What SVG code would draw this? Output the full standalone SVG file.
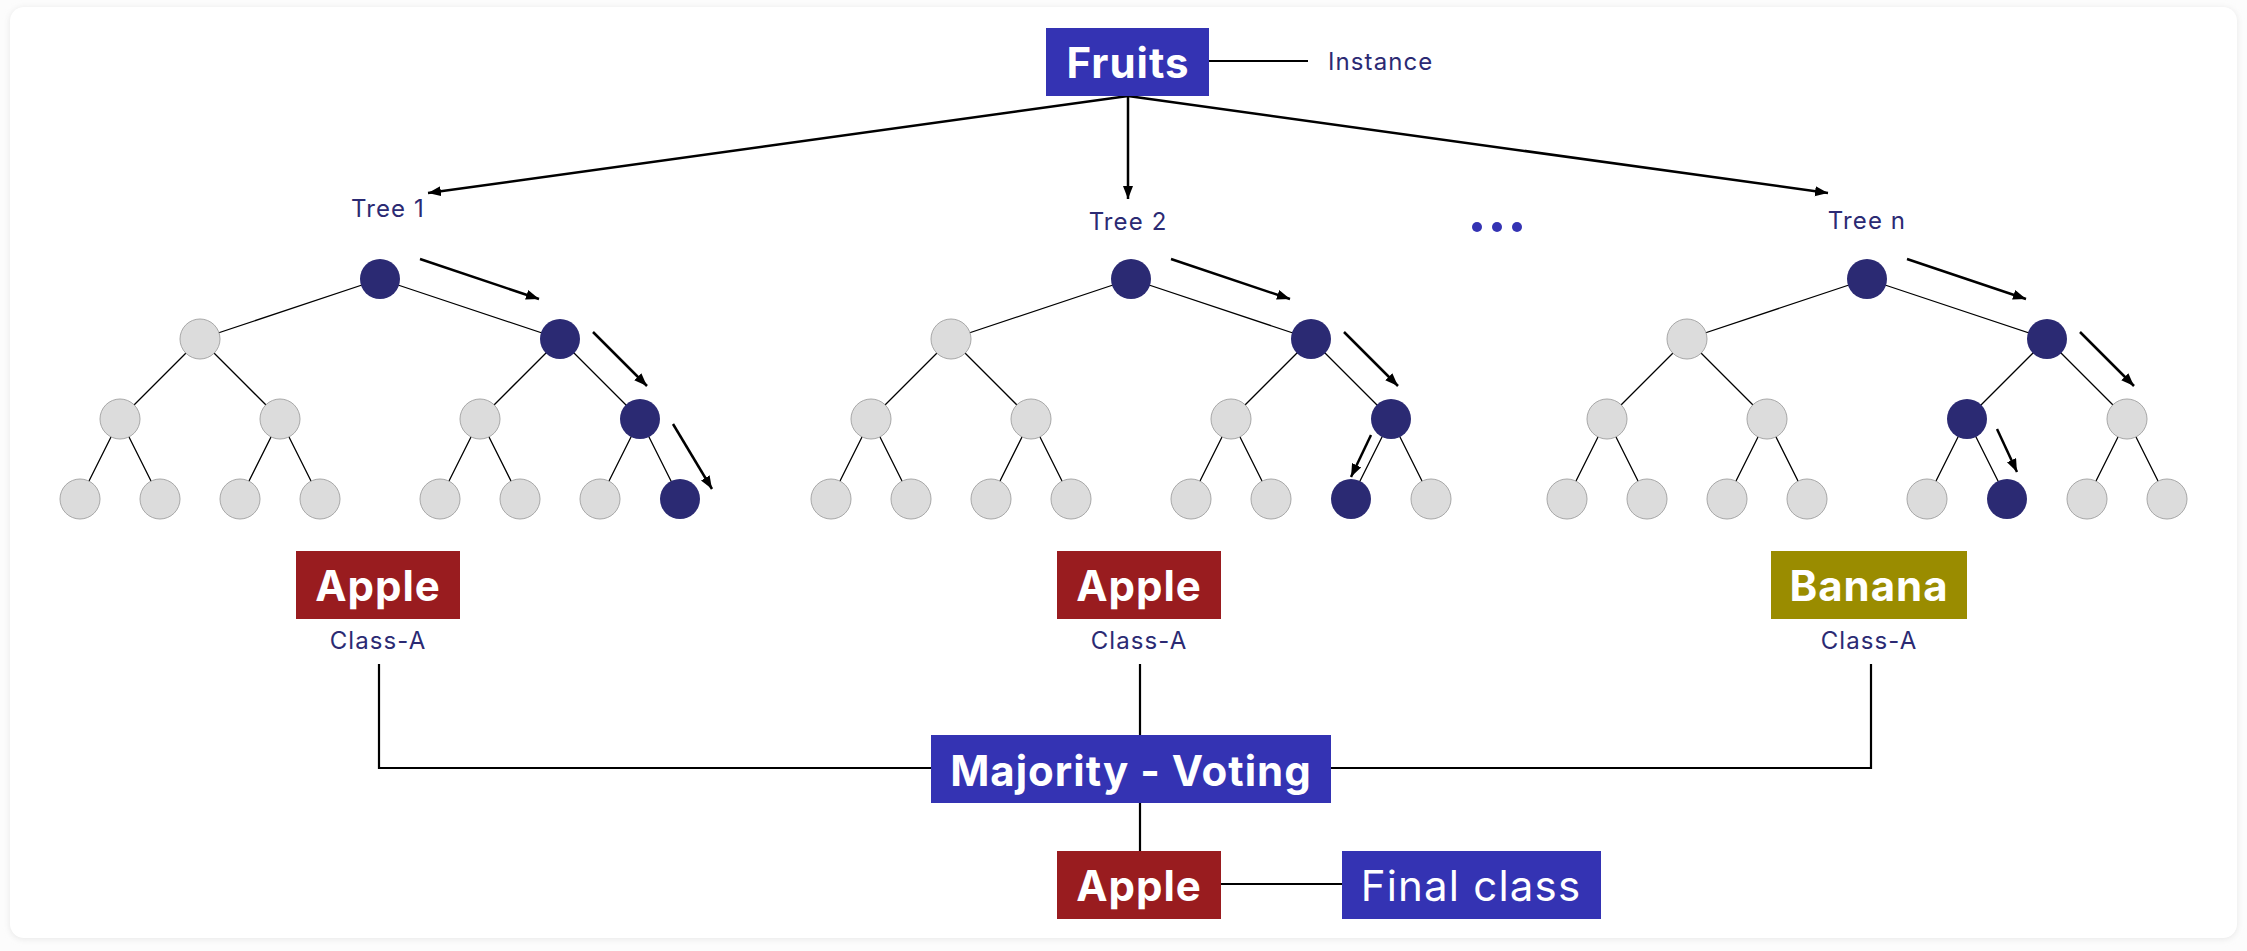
<svg xmlns="http://www.w3.org/2000/svg" width="2247" height="951" viewBox="0 0 2247 951">
<defs>
<marker id="ah" markerUnits="userSpaceOnUse" markerWidth="14" markerHeight="12" refX="13" refY="5" orient="auto">
<path d="M0,0 L13,5 L0,10 z" fill="#000"/>
</marker>
<filter id="sh" x="-5%" y="-5%" width="110%" height="110%">
<feGaussianBlur stdDeviation="3"/>
</filter>
<style>
.lbl{font-family:Inter,"Liberation Sans",sans-serif;fill:#2b2a73;font-size:24px;letter-spacing:1.1px}
.bt{font-family:Inter,"Liberation Sans",sans-serif;fill:#fff;font-size:42px;font-weight:700;letter-spacing:1px}
.bt2{font-family:Inter,"Liberation Sans",sans-serif;fill:#fff;font-size:42px;font-weight:400;letter-spacing:1.2px}
.blue{fill:#3433b3}
.red{fill:#991c1f}
.olive{fill:#9a8c00}
.on{fill:#2b2a73}
.off{fill:#dcdcdc;stroke:#a8a8a8;stroke-width:1}
.edge{stroke:#000;stroke-width:1.3;fill:none}
.link{stroke:#000;stroke-width:2.2;fill:none}
.arr{stroke:#000;stroke-width:2.5;fill:none;marker-end:url(#ah)}
.dot{fill:#3433b3}
</style>
</defs>
<rect width="2247" height="951" fill="#fcfcfc"/>
<rect x="10" y="8" width="2227" height="931" rx="14" fill="#e6e6e6" filter="url(#sh)"/>
<rect x="10" y="7" width="2227" height="931" rx="14" fill="#fff"/>

<g id="connectors">
<line class="link" x1="1209" y1="61" x2="1308" y2="61"/>
<line class="arr" x1="1128" y1="96" x2="428" y2="193"/>
<line class="arr" x1="1128" y1="96" x2="1128" y2="199"/>
<line class="arr" x1="1128" y1="96" x2="1828" y2="193"/>
<g id="tree-edges-1">
<path class="edge" d="M380,279 L200,339 M380,279 L560,339 M200,339 L120,419 M200,339 L280,419 M560,339 L480,419 M560,339 L640,419 M120,419 L80,499 M120,419 L160,499 M280,419 L240,499 M280,419 L320,499 M480,419 L440,499 M480,419 L520,499 M640,419 L600,499 M640,419 L680,499"/>
</g>
<g id="tree-edges-2" transform="translate(751,0)">
<path class="edge" d="M380,279 L200,339 M380,279 L560,339 M200,339 L120,419 M200,339 L280,419 M560,339 L480,419 M560,339 L640,419 M120,419 L80,499 M120,419 L160,499 M280,419 L240,499 M280,419 L320,499 M480,419 L440,499 M480,419 L520,499 M640,419 L600,499 M640,419 L680,499"/>
</g>
<g id="tree-edges-n" transform="translate(1487,0)">
<path class="edge" d="M380,279 L200,339 M380,279 L560,339 M200,339 L120,419 M200,339 L280,419 M560,339 L480,419 M560,339 L640,419 M120,419 L80,499 M120,419 L160,499 M280,419 L240,499 M280,419 L320,499 M480,419 L440,499 M480,419 L520,499 M640,419 L600,499 M640,419 L680,499"/>
</g>
<line class="arr" x1="420" y1="259" x2="539" y2="299"/>
<line class="arr" x1="593" y1="332" x2="647" y2="386"/>
<line class="arr" x1="673" y1="424" x2="712" y2="489"/>
<line class="arr" x1="1171" y1="259" x2="1290" y2="299"/>
<line class="arr" x1="1344" y1="332" x2="1398" y2="386"/>
<line class="arr" x1="1371" y1="435" x2="1351" y2="477"/>
<line class="arr" x1="1907" y1="259" x2="2026" y2="299"/>
<line class="arr" x1="2080" y1="332" x2="2134" y2="386"/>
<line class="arr" x1="1997" y1="429" x2="2017" y2="472"/>
<path class="link" d="M379,664 V768 H931 M1331,768 H1871 V664 M1140,664 V735 M1140,803 V851 M1221,884 H1342"/>
</g>

<g id="fruits">
<rect class="blue" x="1046" y="28" width="163" height="68"/>
<text class="bt" x="1128" y="78" text-anchor="middle">Fruits</text>
</g>
<g id="instance">
<text class="lbl" x="1328" y="70">Instance</text>
</g>

<g id="tree1">
<text class="lbl" x="388" y="217" text-anchor="middle">Tree 1</text>
<circle class="on" cx="380" cy="279" r="20"/>
<circle class="off" cx="200" cy="339" r="20"/>
<circle class="on" cx="560" cy="339" r="20"/>
<circle class="off" cx="120" cy="419" r="20"/>
<circle class="off" cx="280" cy="419" r="20"/>
<circle class="off" cx="480" cy="419" r="20"/>
<circle class="on" cx="640" cy="419" r="20"/>
<circle class="off" cx="80" cy="499" r="20"/>
<circle class="off" cx="160" cy="499" r="20"/>
<circle class="off" cx="240" cy="499" r="20"/>
<circle class="off" cx="320" cy="499" r="20"/>
<circle class="off" cx="440" cy="499" r="20"/>
<circle class="off" cx="520" cy="499" r="20"/>
<circle class="off" cx="600" cy="499" r="20"/>
<circle class="on" cx="680" cy="499" r="20"/>
</g>

<g id="tree2">
<text class="lbl" x="1128" y="230" text-anchor="middle">Tree 2</text>
<circle class="on" cx="1131" cy="279" r="20"/>
<circle class="off" cx="951" cy="339" r="20"/>
<circle class="on" cx="1311" cy="339" r="20"/>
<circle class="off" cx="871" cy="419" r="20"/>
<circle class="off" cx="1031" cy="419" r="20"/>
<circle class="off" cx="1231" cy="419" r="20"/>
<circle class="on" cx="1391" cy="419" r="20"/>
<circle class="off" cx="831" cy="499" r="20"/>
<circle class="off" cx="911" cy="499" r="20"/>
<circle class="off" cx="991" cy="499" r="20"/>
<circle class="off" cx="1071" cy="499" r="20"/>
<circle class="off" cx="1191" cy="499" r="20"/>
<circle class="off" cx="1271" cy="499" r="20"/>
<circle class="on" cx="1351" cy="499" r="20"/>
<circle class="off" cx="1431" cy="499" r="20"/>
</g>

<g id="ellipsis">
<circle class="dot" cx="1477" cy="227" r="5"/>
<circle class="dot" cx="1497" cy="227" r="5"/>
<circle class="dot" cx="1517" cy="227" r="5"/>
</g>

<g id="treen">
<text class="lbl" x="1867" y="229" text-anchor="middle">Tree n</text>
<circle class="on" cx="1867" cy="279" r="20"/>
<circle class="off" cx="1687" cy="339" r="20"/>
<circle class="on" cx="2047" cy="339" r="20"/>
<circle class="off" cx="1607" cy="419" r="20"/>
<circle class="off" cx="1767" cy="419" r="20"/>
<circle class="on" cx="1967" cy="419" r="20"/>
<circle class="off" cx="2127" cy="419" r="20"/>
<circle class="off" cx="1567" cy="499" r="20"/>
<circle class="off" cx="1647" cy="499" r="20"/>
<circle class="off" cx="1727" cy="499" r="20"/>
<circle class="off" cx="1807" cy="499" r="20"/>
<circle class="off" cx="1927" cy="499" r="20"/>
<circle class="on" cx="2007" cy="499" r="20"/>
<circle class="off" cx="2087" cy="499" r="20"/>
<circle class="off" cx="2167" cy="499" r="20"/>
</g>

<g id="result1">
<rect class="red" x="296" y="551" width="164" height="68"/>
<text class="bt" x="378" y="601" text-anchor="middle">Apple</text>
<text class="lbl" x="378" y="649" text-anchor="middle">Class-A</text>
</g>
<g id="result2">
<rect class="red" x="1057" y="551" width="164" height="68"/>
<text class="bt" x="1139" y="601" text-anchor="middle">Apple</text>
<text class="lbl" x="1139" y="649" text-anchor="middle">Class-A</text>
</g>
<g id="resultn">
<rect class="olive" x="1771" y="551" width="196" height="68"/>
<text class="bt" x="1869" y="601" text-anchor="middle">Banana</text>
<text class="lbl" x="1869" y="649" text-anchor="middle">Class-A</text>
</g>

<g id="majority">
<rect class="blue" x="931" y="735" width="400" height="68"/>
<text class="bt" x="1131" y="786" text-anchor="middle">Majority - Voting</text>
</g>
<g id="final-apple">
<rect class="red" x="1057" y="851" width="164" height="68"/>
<text class="bt" x="1139" y="901" text-anchor="middle">Apple</text>
</g>
<g id="final-class">
<rect class="blue" x="1342" y="851" width="259" height="68"/>
<text class="bt2" x="1471" y="901" text-anchor="middle">Final class</text>
</g>
</svg>
